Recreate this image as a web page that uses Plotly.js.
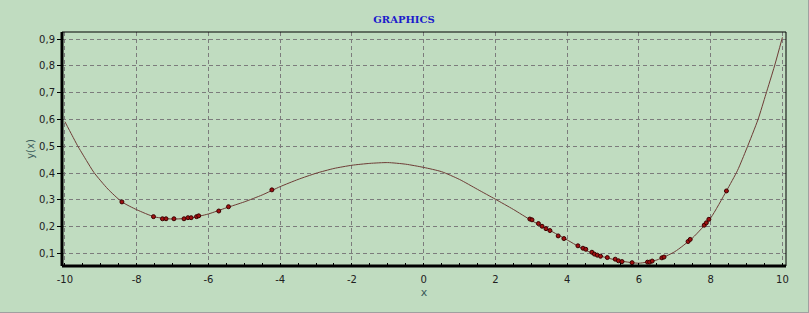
<!DOCTYPE html>
<html>
<head>
<meta charset="utf-8">
<script src="https://cdn.plot.ly/plotly-3.0.1.min.js"></script>
<style>
html,body{margin:0;padding:0;background:#ffffff;}
#chart{width:808px;height:312px;border-right:1px solid #a0a0a0;border-bottom:1px solid #a0a0a0;}
</style>
</head>
<body>
<div id="chart"></div>
<script>
// Smooth curve
const curveX = [-10, -9.8, -9.65, -9.4, -9.19, -8.8, -8.41, -8.0, -7.5, -7.0, -6.5, -6.0, -5.5, -5.0, -4.5, -4.0, -3.5, -3.0, -2.5, -2.0, -1.5, -1.0, -0.5, 0.0, 0.5, 1.0, 1.5, 2.0, 2.5, 3.0, 3.5, 4.0, 4.5, 5.0, 5.5, 6.0, 6.5, 7.0, 7.5, 8.0, 8.44, 8.75, 9.0, 9.32, 9.54, 9.78, 10.0];
const curveY = [0.592, 0.541, 0.503, 0.447, 0.402, 0.340, 0.292, 0.263, 0.236, 0.228, 0.232, 0.247, 0.270, 0.292, 0.318, 0.349, 0.376, 0.399, 0.417, 0.429, 0.436, 0.439, 0.433, 0.421, 0.405, 0.376, 0.339, 0.302, 0.264, 0.223, 0.187, 0.150, 0.112, 0.087, 0.071, 0.063, 0.075, 0.106, 0.158, 0.232, 0.333, 0.410, 0.490, 0.600, 0.695, 0.800, 0.907];

// Sample points (markers)
const ptX = [-8.41, -7.53, -7.28, -7.18, -6.96, -6.68, -6.57, -6.48, -6.33, -6.27, -5.71, -5.44, -4.23,
  2.96, 3.02, 3.20, 3.30, 3.41, 3.52, 3.75, 3.91, 4.30, 4.44, 4.52, 4.69, 4.76, 4.84, 4.93, 5.12, 5.34, 5.43, 5.53, 5.81,
  6.24, 6.30, 6.37, 6.64, 6.70, 7.37, 7.43, 7.82, 7.88, 7.95, 8.44];
const ptY = [0.292, 0.237, 0.229, 0.229, 0.229, 0.229, 0.233, 0.233, 0.237, 0.240, 0.258, 0.274, 0.337,
  0.228, 0.225, 0.211, 0.201, 0.192, 0.185, 0.165, 0.155, 0.128, 0.119, 0.115, 0.104, 0.097, 0.093, 0.089, 0.084, 0.078, 0.072, 0.069, 0.065,
  0.067, 0.067, 0.071, 0.083, 0.086, 0.144, 0.152, 0.205, 0.214, 0.227, 0.333];

const xTicks = [-10, -8, -6, -4, -2, 0, 2, 4, 6, 8, 10];
const yTicks = [0.1, 0.2, 0.3, 0.4, 0.5, 0.6, 0.7, 0.8, 0.9];

const bg = '#C0DCC0';
const tickFont = {family: 'DejaVu Sans, Verdana, sans-serif', size: 10, color: '#202020'};

const traces = [
  {x: curveX, y: curveY, type: 'scatter', mode: 'lines', line: {color: '#6e3c36', width: 1, shape: 'spline', smoothing: 0.6}, hoverinfo: 'skip'},
  {x: ptX, y: ptY, type: 'scatter', mode: 'markers', marker: {color: '#a01010', size: 4, line: {color: '#3a0000', width: 1}}}
];

const layout = {
  width: 808, height: 312,
  margin: {l: 62, r: 22, t: 32, b: 46, pad: 0},
  paper_bgcolor: bg, plot_bgcolor: bg,
  showlegend: false,
  separators: ', ',
  title: {text: '<b>GRAPHICS</b>', font: {family: 'DejaVu Serif, serif', size: 10, color: '#1a1acc'}, x: 0.5, xanchor: 'center', xref: 'container', y: 0.939, yanchor: 'middle', yref: 'container'},
  xaxis: {
    range: [-10.08, 10.1], tickvals: xTicks, ticktext: xTicks.map(String),
    showgrid: true, gridcolor: '#7c7c7c', griddash: '4px,3px', gridwidth: 1,
    zeroline: false, showline: false,
    ticks: '', tickfont: tickFont, ticklabelstandoff: 6,
    minor: {dtick: 0.5, tick0: 0, ticks: 'inside', ticklen: 3, tickcolor: '#000', showgrid: false},
    title: {text: 'x', font: {family: 'DejaVu Sans, Verdana, sans-serif', size: 11, color: '#3a5a5a'}, standoff: 4}
  },
  yaxis: {
    range: [0.0525, 0.927], tickvals: yTicks, ticktext: yTicks.map(v => v.toFixed(1).replace('.', ',')),
    showgrid: true, gridcolor: '#7c7c7c', griddash: '4px,3px', gridwidth: 1,
    zeroline: false, showline: false,
    ticks: 'outside', ticklen: 4, tickcolor: '#000', tickfont: tickFont,
    title: {text: 'y(x)', font: {family: 'DejaVu Sans, Verdana, sans-serif', size: 10, color: '#3a5a5a'}, standoff: 2}
  },
  shapes: [
    {type: 'line', xref: 'paper', yref: 'paper', x0: 0, x1: 1, y0: 1, y1: 1, line: {color: '#000', width: 1}},
    {type: 'line', xref: 'paper', yref: 'paper', x0: 1, x1: 1, y0: 0, y1: 1, line: {color: '#000', width: 1}},
    {type: 'line', xref: 'paper', yref: 'paper', x0: 0, x1: 1, y0: 0, y1: 0, line: {color: '#000', width: 3}},
    {type: 'line', xref: 'paper', yref: 'paper', x0: 0, x1: 0, y0: 0, y1: 1, line: {color: '#000', width: 3}}
  ]
};

Plotly.newPlot('chart', traces, layout, {staticPlot: true, displayModeBar: false});
</script>
</body>
</html>
